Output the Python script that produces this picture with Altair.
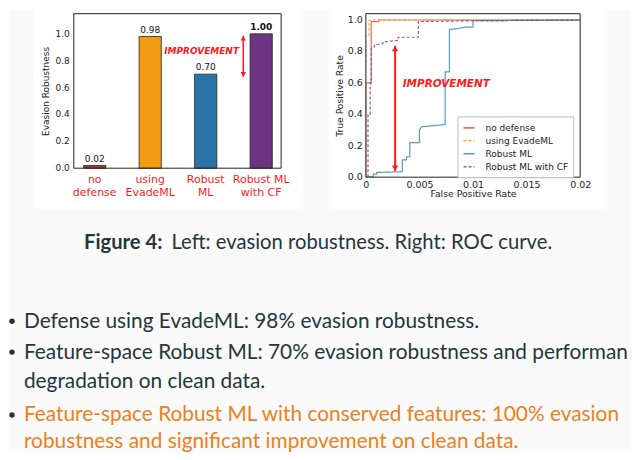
import altair as alt
import pandas as pd

# ---------------- left panel: evasion robustness ----------------
categories = ["no defense", "using EvadeML", "Robust ML", "Robust ML with CF"]
tick_line1 = ["no", "using", "Robust", "Robust ML"]
tick_line2 = ["defense", "EvadeML", "ML", "with CF"]
robustness = [0.02, 0.98, 0.70, 1.00]
bar_colors = ["#c0392b", "#f39c12", "#2874a6", "#6c3483"]
left_y_ticks = [0.0, 0.2, 0.4, 0.6, 0.8, 1.0]

# ---------------- right panel: ROC curves ----------------
roc_names = ["no defense", "using EvadeML", "Robust ML", "Robust ML with CF"]
roc_colors = ["#e8553f", "#f7a21b", "#3a87c0", "#7a3d9c"]
roc_dashes = [[1, 0], [3, 2], [1, 0], [3, 2]]
nd_fpr = [0.0, 0.0, 0.0005, 0.0005, 0.0012, 0.0012, 0.02]
nd_tpr = [0.0, 0.60, 0.60, 0.99, 0.99, 1.0, 1.0]
ev_fpr = [0.0, 0.0, 0.0003, 0.0003, 0.02]
ev_tpr = [0.0, 0.90, 0.90, 1.0, 1.0]
rm_fpr = [0.0, 0.0007, 0.0007, 0.0010, 0.0010, 0.0034, 0.0034, 0.0038, 0.0038, 0.0041, 0.0041,
          0.0050, 0.0050, 0.0052, 0.0074, 0.0074, 0.0078, 0.0078, 0.0086, 0.0092, 0.0100, 0.0100, 0.0200]
rm_tpr = [0.0, 0.005, 0.02, 0.02, 0.03, 0.035, 0.11, 0.11, 0.13, 0.13, 0.22,
          0.22, 0.30, 0.32, 0.335, 0.67, 0.67, 0.94, 0.945, 0.955, 0.955, 0.995, 1.0]
cf_fpr = [0.0002, 0.0002, 0.0004, 0.0004, 0.0005, 0.0005, 0.0008, 0.0008, 0.0016, 0.0016,
          0.0030, 0.0030, 0.0049, 0.0049, 0.0100, 0.0200]
cf_tpr = [0.0, 0.40, 0.40, 0.60, 0.60, 0.82, 0.83, 0.84, 0.85, 0.86,
          0.87, 0.89, 0.89, 0.99, 0.995, 1.0]
roc_x_ticks = [0, 0.005, 0.01, 0.015, 0.02]
roc_y_ticks = [0.0, 0.2, 0.4, 0.6, 0.8, 1.0]

# ---------------- annotations ----------------
note_text = "IMPROVEMENT"
left_note_x, left_note_y = 2.6, 0.873
left_arrow_x, left_arrow_top, left_arrow_bot = 2.677, 0.985, 0.68
right_note_x, right_note_y = 0.00344, 0.59
right_arrow_x, right_arrow_top, right_arrow_bot = 0.00273, 0.835, 0.04

caption_bold = "Figure 4:"
caption_rest = "Left: evasion robustness. Right: ROC curve."
bullet1 = "Defense using EvadeML: 98% evasion robustness."
bullet2a = "Feature-space Robust ML: 70% evasion robustness and performance"
bullet2b = "degradation on clean data."
bullet3a = "Feature-space Robust ML with conserved features: 100% evasion"
bullet3b = "robustness and significant improvement on clean data."

FONT = "DejaVu Sans"
SLIDE_FONT = "Lato"
INK = "#23373b"
ALERT = "#eb811b"
RED = "#ff1a1a"

W_L, H_L = 208, 155
W_R, H_R = 215, 164

Y_TITLE_L = "Evasion Robustness"
X_TITLE_R = "False Positive Rate"
Y_TITLE_R = "True Positive Rate"

one = pd.DataFrame({"k": [0]})


def px_rect(x, x2, y, y2, **kw):
    return alt.Chart(one).mark_rect(**kw).encode(
        x=alt.value(x), x2=alt.value(x2), y=alt.value(y), y2=alt.value(y2))


def px_text(text, x, y, **kw):
    return alt.Chart(one).mark_text(text=text, baseline="alphabetic", **kw).encode(
        x=alt.value(x), y=alt.value(y))


def px_dot(x, y):
    return alt.Chart(one).mark_point(shape="circle", filled=True, size=30, color=INK, opacity=1).encode(
        x=alt.value(x), y=alt.value(y))


def y_labels(ticks, title, xpix, size):
    df = pd.DataFrame({"v": ticks, "s": [f"{t:.1f}" for t in ticks]})
    return alt.Chart(df).mark_text(align="right", baseline="middle", font=FONT, fontSize=size,
                                   color="#222").encode(x=alt.value(xpix), y=alt.Y("v:Q", title=title),
                                                        text="s:N")


# ---------------- left chart ----------------
bar_df = pd.DataFrame({"cat": categories, "pos": list(range(len(categories))), "val": robustness,
                       "lab": [f"{v:.2f}" for v in robustness],
                       "l1": tick_line1, "l2": tick_line2})
xs_L = alt.Scale(domain=[-0.377, 3.359], nice=False, zero=False)
ys_L = alt.Scale(domain=[0, 1.15], nice=False, zero=False)

x_axis_L = alt.Axis(values=list(range(len(categories))), labels=False, zindex=1)
y_axis_L = alt.Axis(values=left_y_ticks, labels=False, titleFontSize=9, titlePadding=23, zindex=1)

bars = alt.Chart(bar_df).transform_calculate(
    x0="datum.pos - 0.2", x1="datum.pos + 0.2"
).mark_rect(stroke="#222", strokeWidth=0.8).encode(
    x=alt.X("x0:Q", scale=xs_L, title=None, axis=x_axis_L),
    x2="x1:Q",
    y=alt.Y("val:Q", scale=ys_L, title=Y_TITLE_L, axis=y_axis_L),
    y2=alt.datum(0),
    color=alt.Color("cat:N", scale=alt.Scale(domain=categories, range=bar_colors), legend=None),
)

ylab_L = y_labels(left_y_ticks, Y_TITLE_L, -4, 9)

xlab_kw = dict(align="center", baseline="alphabetic", font=FONT, fontSize=11, color=RED)
xlab1 = alt.Chart(bar_df).mark_text(**xlab_kw).encode(
    x=alt.X("pos:Q", title=None), y=alt.value(H_L + 14.5), text="l1:N")
xlab2 = alt.Chart(bar_df).mark_text(**xlab_kw).encode(
    x=alt.X("pos:Q", title=None), y=alt.value(H_L + 27.5), text="l2:N")

vals = alt.Chart(bar_df).transform_filter("datum.val < 1").mark_text(
    dy=-4, baseline="alphabetic", fontSize=9, font=FONT, color="#111"
).encode(x=alt.X("pos:Q", title=None), y=alt.Y("val:Q", title=Y_TITLE_L), text="lab:N")
vals_bold = alt.Chart(bar_df).transform_filter("datum.val >= 1").mark_text(
    dy=-4, baseline="alphabetic", fontSize=9, font=FONT, color="#111", fontWeight="bold"
).encode(x=alt.X("pos:Q", title=None), y=alt.Y("val:Q", title=Y_TITLE_L), text="lab:N")

nL = pd.DataFrame({"x": [left_note_x], "y": [left_note_y]})
note_L = alt.Chart(nL).mark_text(text=note_text, align="right", baseline="middle", font=FONT,
                                  fontSize=9, fontWeight="bold", fontStyle="italic", color=RED).encode(
    x=alt.X("x:Q", title=None), y=alt.Y("y:Q", title=Y_TITLE_L))

aL = pd.DataFrame({"x": [left_arrow_x], "top": [left_arrow_top], "bot": [left_arrow_bot]})
rule_L = alt.Chart(aL).mark_rule(color=RED, strokeWidth=1.5).encode(
    x=alt.X("x:Q", title=None), y=alt.Y("top:Q", title=Y_TITLE_L), y2="bot:Q")
up_L = alt.Chart(aL).mark_point(shape="triangle-up", filled=True, size=30, color=RED, opacity=1,
                                yOffset=2.4).encode(x=alt.X("x:Q", title=None), y=alt.Y("top:Q", title=Y_TITLE_L))
dn_L = alt.Chart(aL).mark_point(shape="triangle-down", filled=True, size=30, color=RED, opacity=1,
                                yOffset=-2.4).encode(x=alt.X("x:Q", title=None), y=alt.Y("bot:Q", title=Y_TITLE_L))

bg = px_rect(-65, 559, -4, 440, color="#fafafa")
panel_L = px_rect(-40, 230, -4, 196, color="white")
frame_L = px_rect(0, W_L, 0, H_L, fillOpacity=0, stroke="#222", strokeWidth=1)

cap_kw = dict(font=SLIDE_FONT, fontSize=20.3, color=INK)
cap1 = px_text(caption_bold, 89, 236, align="right", fontWeight="bold", **cap_kw)
cap2 = px_text(caption_rest, 98, 236, align="left", **cap_kw)

b_kw = dict(align="left", font=SLIDE_FONT, fontSize=20.9)
t1 = px_text(bullet1, -50, 315, color=INK, **b_kw)
t2 = px_text(bullet2a, -50, 346, color=INK, limit=609, ellipsis="\u200b", **b_kw)
t3 = px_text(bullet2b, -50, 376, color=INK, **b_kw)
t4 = px_text(bullet3a, -50, 409, color=ALERT, **b_kw)
t5 = px_text(bullet3b, -50, 436, color=ALERT, **b_kw)
d1 = px_dot(-62, 308.5)
d2 = px_dot(-62, 339.5)
d3 = px_dot(-62, 402.5)

left = alt.layer(
    bg, panel_L, bars, frame_L, ylab_L, xlab1, xlab2, vals, vals_bold, note_L, rule_L, up_L, dn_L,
    cap1, cap2, d1, d2, d3, t1, t2, t3, t4, t5,
).properties(width=W_L, height=H_L)

# ---------------- right chart ----------------
rows = []
for name, fx, ty in zip(roc_names, [nd_fpr, ev_fpr, rm_fpr, cf_fpr], [nd_tpr, ev_tpr, rm_tpr, cf_tpr]):
    for i, (a, b) in enumerate(zip(fx, ty)):
        rows.append({"series": name, "fpr": a, "tpr": b, "i": i})
roc_df = pd.DataFrame(rows)

xs_R = alt.Scale(domain=[0, 0.02], nice=False, zero=False)
ys_R = alt.Scale(domain=[0, 1.04], nice=False, zero=False)

leg = alt.Legend(title=None, orient="none", legendX=92, legendY=103, symbolType="stroke",
                 symbolSize=121, symbolStrokeWidth=1.6, symbolOpacity=0.85, labelFont=FONT,
                 labelFontSize=9, labelColor="#222", labelOffset=10, strokeColor="#bbbbbb",
                 fillColor="white", padding=5, rowPadding=1, cornerRadius=0, zindex=2)

x_axis_R = alt.Axis(values=roc_x_ticks, format="~g", labelFontSize=9.5, labelPadding=2,
                    labelOverlap=False, titleFontSize=9.3, titlePadding=1, labelFlush=False, zindex=1)
y_axis_R = alt.Axis(values=roc_y_ticks, labels=False, titleFontSize=9.2, titlePadding=21, zindex=1)

lines = alt.Chart(roc_df).mark_line(strokeWidth=1.2, opacity=0.85, clip=True).encode(
    x=alt.X("fpr:Q", scale=xs_R, title=X_TITLE_R, axis=x_axis_R),
    y=alt.Y("tpr:Q", scale=ys_R, title=Y_TITLE_R, axis=y_axis_R),
    color=alt.Color("series:N", scale=alt.Scale(domain=roc_names, range=roc_colors), legend=leg),
    strokeDash=alt.StrokeDash("series:N", scale=alt.Scale(domain=roc_names, range=roc_dashes), legend=leg),
    order="i:Q",
)

ylab_R = y_labels(roc_y_ticks, Y_TITLE_R, -3, 9.5)

nR = pd.DataFrame({"x": [right_note_x], "y": [right_note_y]})
note_R = alt.Chart(nR).mark_text(text=note_text, align="left", baseline="middle", font=FONT,
                                  fontSize=10.5, fontWeight="bold", fontStyle="italic", color=RED).encode(
    x=alt.X("x:Q", title=X_TITLE_R), y=alt.Y("y:Q", title=Y_TITLE_R))

aR = pd.DataFrame({"x": [right_arrow_x], "top": [right_arrow_top], "bot": [right_arrow_bot]})
rule_R = alt.Chart(aR).mark_rule(color=RED, strokeWidth=2).encode(
    x=alt.X("x:Q", title=X_TITLE_R), y=alt.Y("top:Q", title=Y_TITLE_R), y2="bot:Q")
up_R = alt.Chart(aR).mark_point(shape="triangle-up", filled=True, size=40, color=RED, opacity=1,
                                yOffset=2.7).encode(x=alt.X("x:Q", title=X_TITLE_R),
                                                    y=alt.Y("top:Q", title=Y_TITLE_R))
dn_R = alt.Chart(aR).mark_point(shape="triangle-down", filled=True, size=40, color=RED, opacity=1,
                                yOffset=-2.7).encode(x=alt.X("x:Q", title=X_TITLE_R),
                                                     y=alt.Y("bot:Q", title=Y_TITLE_R))

panel_R = px_rect(-37, 242, -4, 196, color="white")
frame_R = px_rect(0, W_R, 0, H_R, fillOpacity=0, stroke="#222", strokeWidth=1)

right = alt.layer(panel_R, lines, frame_R, ylab_R, note_R, rule_R, up_R, dn_R).properties(
    width=W_R, height=H_R)

chart = alt.hconcat(left, right, spacing=85, bounds="flush").resolve_scale(
    color="independent", strokeDash="independent"
).resolve_legend(
    color="independent", strokeDash="independent"
).properties(
    padding=0
).configure(font=FONT).configure_view(stroke="transparent").configure_axis(
    labelFont=FONT, titleFont=FONT, labelColor="#222", titleColor="#222", grid=False,
    ticks=False, tickSize=0, domain=False, zindex=1, titleFontWeight="normal"
)

chart.save("out.html", embed_options={"renderer": "svg", "actions": False})
